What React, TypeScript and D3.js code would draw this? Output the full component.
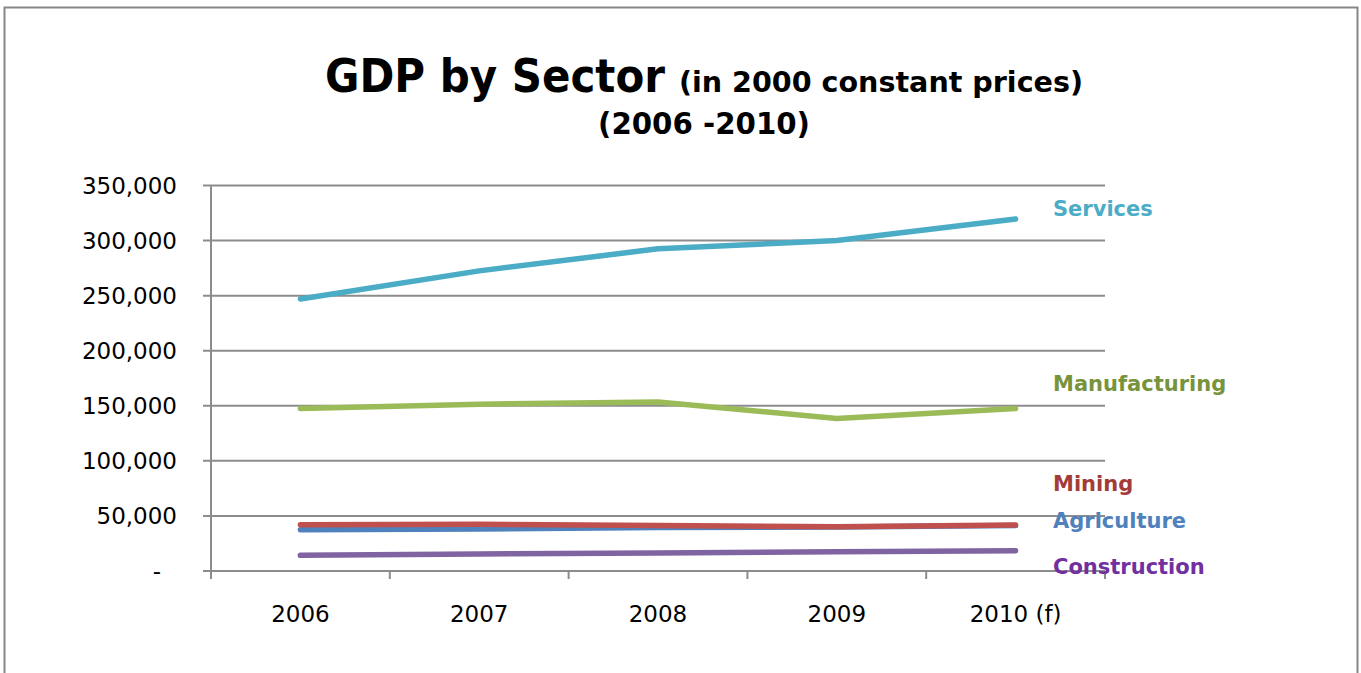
import React from "react";
import * as d3 from "d3";

const years = ["2006", "2007", "2008", "2009", "2010 (f)"];
const services = [247000, 272500, 292500, 300000, 319500];
const manufacturing = [147500, 151500, 153500, 138500, 147500];
const mining = [42000, 42500, 41200, 40200, 41800];
const agriculture = [37500, 38200, 39500, 40000, 41200];
const construction = [14200, 15400, 16400, 17400, 18400];
const yTicks = [0, 50000, 100000, 150000, 200000, 250000, 300000, 350000];

const seriesNames = ["Services", "Manufacturing", "Mining", "Agriculture", "Construction"];
const seriesValues = [services, manufacturing, mining, agriculture, construction];
const lineColors = ["#4BACC6", "#9BBB59", "#C0504D", "#4F81BD", "#8064A2"];
const labelColors = ["#4BACC6", "#77933C", "#A33C39", "#4F81BD", "#7030A0"];
const labelY = [208, 383, 483, 520, 566];
const drawOrder = [4, 3, 2, 1, 0];

const W = 1361;
const H = 673;
const plotLeft = 211;
const plotRight = 1105;
const plotTop = 185.5;
const plotBottom = 571;

export default function App() {
  const x = d3.scaleBand<string>().domain(years).range([plotLeft, plotRight]).padding(0);
  const y = d3.scaleLinear().domain([0, 350000]).range([plotBottom, plotTop]);
  const fmt = d3.format(",");
  const line = d3
    .line<number>()
    .x((_, i) => (x(years[i]) as number) + x.bandwidth() / 2)
    .y((d) => y(d));

  const font = "'DejaVu Sans', Verdana, sans-serif";
  const boundaries = [...years.map((c) => x(c) as number), plotRight];

  return (
    <svg
      width={W}
      height={H}
      style={{ position: "absolute", left: 0, top: 0, display: "block", background: "#fff" }}
      fontFamily={font}
    >
      <rect x={4.5} y={7.5} width={1353} height={700} fill="#fff" stroke="#868686" strokeWidth={2} />

      <text x={325} y={92} fontWeight="bold" fill="#000" fontSize={46} textLength={340} lengthAdjust="spacingAndGlyphs">
        GDP by Sector
      </text>
      <text x={679} y={92} fontWeight="bold" fill="#000" fontSize={29} textLength={404} lengthAdjust="spacingAndGlyphs">
        (in 2000 constant prices)
      </text>
      <text x={598} y={134} fontWeight="bold" fontSize={30} fill="#000" textLength={212} lengthAdjust="spacingAndGlyphs">
        (2006 -2010)
      </text>

      {yTicks.map((t) => (
        <g key={t}>
          <line x1={plotLeft - 8} x2={plotRight} y1={y(t)} y2={y(t)} stroke="#8c8c8c" strokeWidth={2} />
          <text
            x={t === 0 ? 161 : 177}
            y={y(t)}
            dy="0.36em"
            textAnchor="end"
            fontSize={23}
            fill="#000"
          >
            {t === 0 ? "-" : fmt(t)}
          </text>
        </g>
      ))}

      <line x1={plotLeft} x2={plotLeft} y1={plotTop} y2={plotBottom + 8} stroke="#8c8c8c" strokeWidth={2} />
      {boundaries.map((b, i) => (
        <line key={i} x1={b} x2={b} y1={plotBottom} y2={plotBottom + 8} stroke="#8c8c8c" strokeWidth={2} />
      ))}
      {years.map((c) => (
        <text
          key={c}
          x={(x(c) as number) + x.bandwidth() / 2}
          y={614}
          dy="0.36em"
          textAnchor="middle"
          fontSize={23}
          fill="#000"
        >
          {c}
        </text>
      ))}

      {drawOrder.map((i) => (
        <path
          key={seriesNames[i]}
          d={line(seriesValues[i]) as string}
          fill="none"
          stroke={lineColors[i]}
          strokeWidth={5.5}
          strokeLinecap="round"
          strokeLinejoin="round"
        />
      ))}

      {seriesNames.map((n, i) => (
        <text
          key={n}
          x={1053}
          y={labelY[i]}
          dy="0.36em"
          fontSize={21}
          fontWeight="bold"
          fill={labelColors[i]}
        >
          {n}
        </text>
      ))}
    </svg>
  );
}
